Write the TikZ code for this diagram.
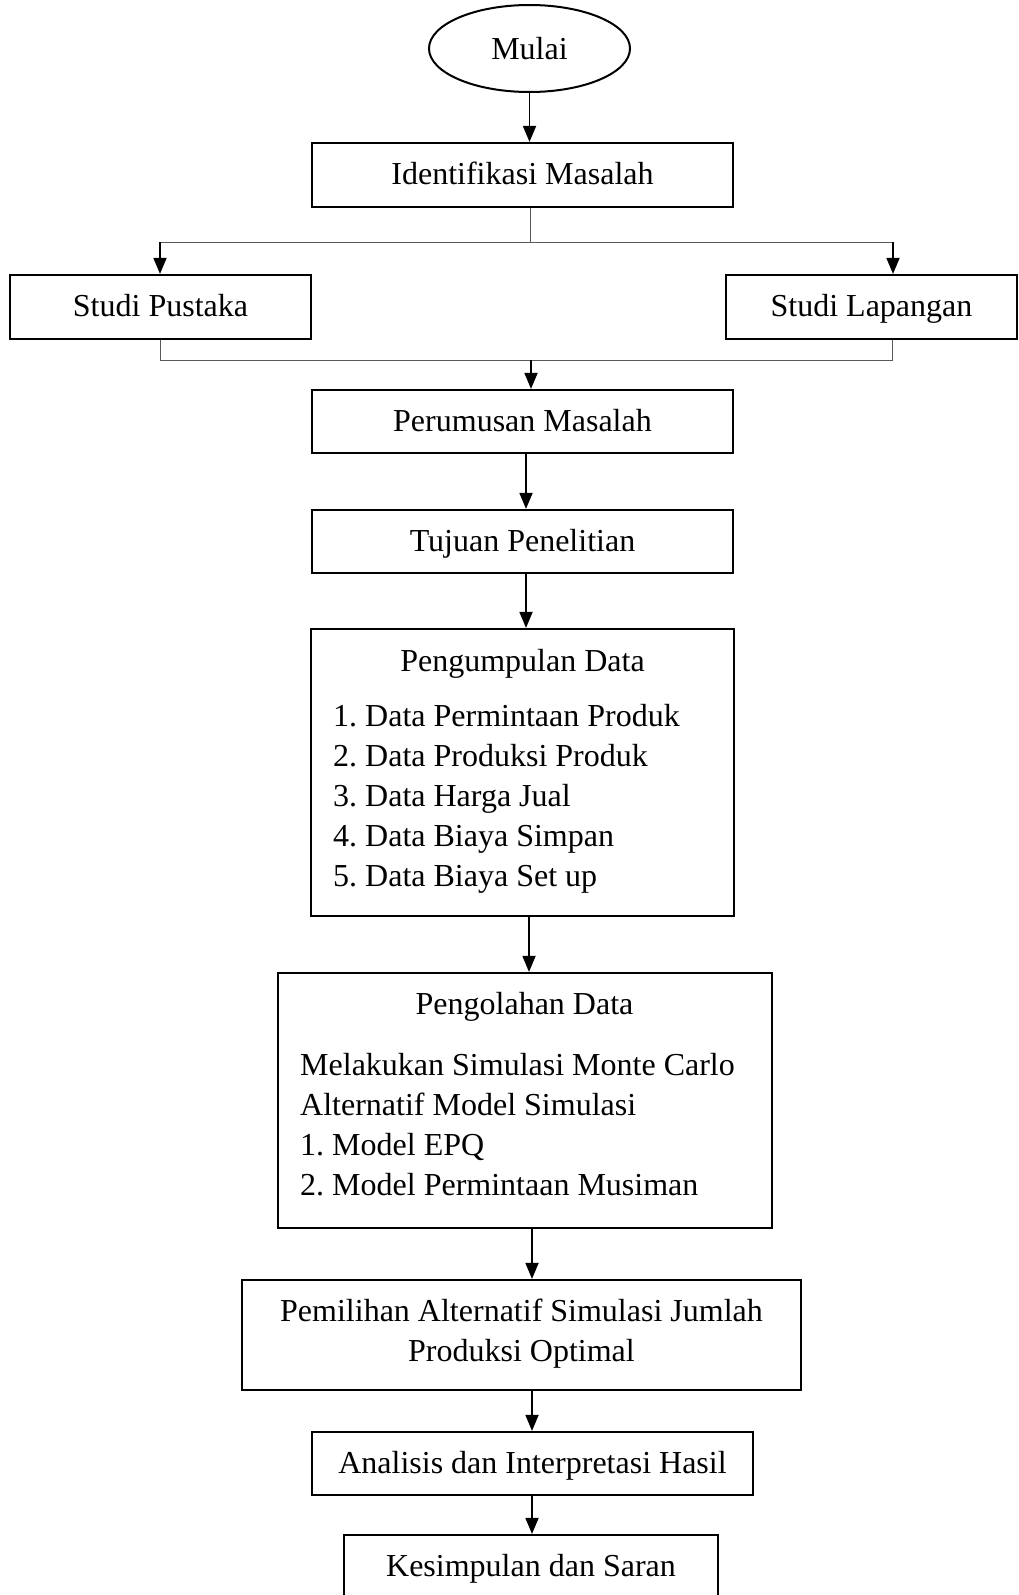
\documentclass[tikz,border=0pt]{standalone}
\usepackage{fontspec}
\setmainfont{Liberation Serif}
\usetikzlibrary{arrows.meta,shapes.geometric}
\begin{document}
\frenchspacing
\begin{tikzpicture}[x=1pt,y=-1pt,
  box/.style={draw, line width=2.2pt, rectangle, inner sep=0pt, align=center, font=\fontsize{32}{40}\selectfont},
  one/.style={text height=22pt, text depth=3pt},
  txt/.style={inner sep=0pt, font=\fontsize{32}{40}\selectfont},
  arr/.style={line width=1.8pt, -{Triangle[length=16pt,width=13pt]}},
  thinline/.style={line width=1pt, draw=black!65},
]
\useasboundingbox (0,0) rectangle (1019,1595);
\node[draw, line width=2pt, ellipse, minimum width=201pt, minimum height=87pt, inner sep=0pt, text height=22pt, text depth=0pt, font=\fontsize{32}{40}\selectfont] (mulai) at (529.5,48.5) {Mulai};
\node[box, one, minimum width=421pt, minimum height=64pt] (ident) at (522.5,175) {Identifikasi Masalah};
\node[box, one, minimum width=301pt, minimum height=64pt] (pustaka) at (160.5,307) {Studi Pustaka};
\node[box, one, minimum width=291pt, minimum height=64pt] (lapangan) at (871.5,307) {Studi Lapangan};
\node[box, one, minimum width=421pt, minimum height=63pt] (rumus) at (522.5,421.5) {Perumusan Masalah};
\node[box, one, minimum width=421pt, minimum height=63pt] (tujuan) at (522.5,541.5) {Tujuan Penelitian};
\node[box, minimum width=423pt, minimum height=287pt] (kumpul) at (522.5,772.5) {};
\node[txt] (kumpulT) at (522.5,664) {Pengumpulan Data};
\node[txt, align=left, anchor=west] (kumpulL) at (333,799) {1. Data Permintaan Produk\\2. Data Produksi Produk\\3. Data Harga Jual\\4. Data Biaya Simpan\\5. Data Biaya Set up};
\node[box, minimum width=494pt, minimum height=255pt] (olah) at (525,1100.5) {};
\node[txt] (olahT) at (524.5,1007) {Pengolahan Data};
\node[txt, align=left, anchor=west] (olahL) at (300,1125) {Melakukan Simulasi Monte Carlo\\Alternatif Model Simulasi\\1. Model EPQ\\2. Model Permintaan Musiman};
\node[box, minimum width=559pt, minimum height=110pt] (pilih) at (521.5,1335) {};
\node[txt, align=center] (pilihT) at (521.5,1334) {Pemilihan Alternatif Simulasi Jumlah\\Produksi Optimal};
\node[box, one, minimum width=441pt, minimum height=63pt] (analisis) at (532.5,1463.5) {Analisis dan Interpretasi Hasil};
\node[box, one, minimum width=374pt, minimum height=64pt] (simpul) at (531,1567) {Kesimpulan dan Saran};

\coordinate (br) at (530,242);
\coordinate (bl) at (160,242);
\coordinate (brr) at (893,242);
\coordinate (jl) at (160,360);
\coordinate (jr) at (892,360);
\coordinate (jm) at (531,360);
\coordinate (col) at (526,0);
\coordinate (colb) at (529,0);
\coordinate (colc) at (532,0);

\draw[arr] (mulai.south) -- (mulai.south |- ident.north);
\draw[thinline] (br |- ident.south) -- (br);
\draw[thinline] (bl) -- (brr);
\draw[arr] (bl) -- (bl |- pustaka.north);
\draw[arr] (brr) -- (brr |- lapangan.north);
\draw[thinline] (jl |- pustaka.south) -- (jl) -- (jr) -- (jr |- lapangan.south);
\draw[arr] (jm) -- (jm |- rumus.north);
\draw[arr] (col |- rumus.south) -- (col |- tujuan.north);
\draw[arr] (col |- tujuan.south) -- (col |- kumpul.north);
\draw[arr] (colb |- kumpul.south) -- (colb |- olah.north);
\draw[arr] (colc |- olah.south) -- (colc |- pilih.north);
\draw[arr] (colc |- pilih.south) -- (colc |- analisis.north);
\draw[arr] (colc |- analisis.south) -- (colc |- simpul.north);
\end{tikzpicture}
\end{document}
